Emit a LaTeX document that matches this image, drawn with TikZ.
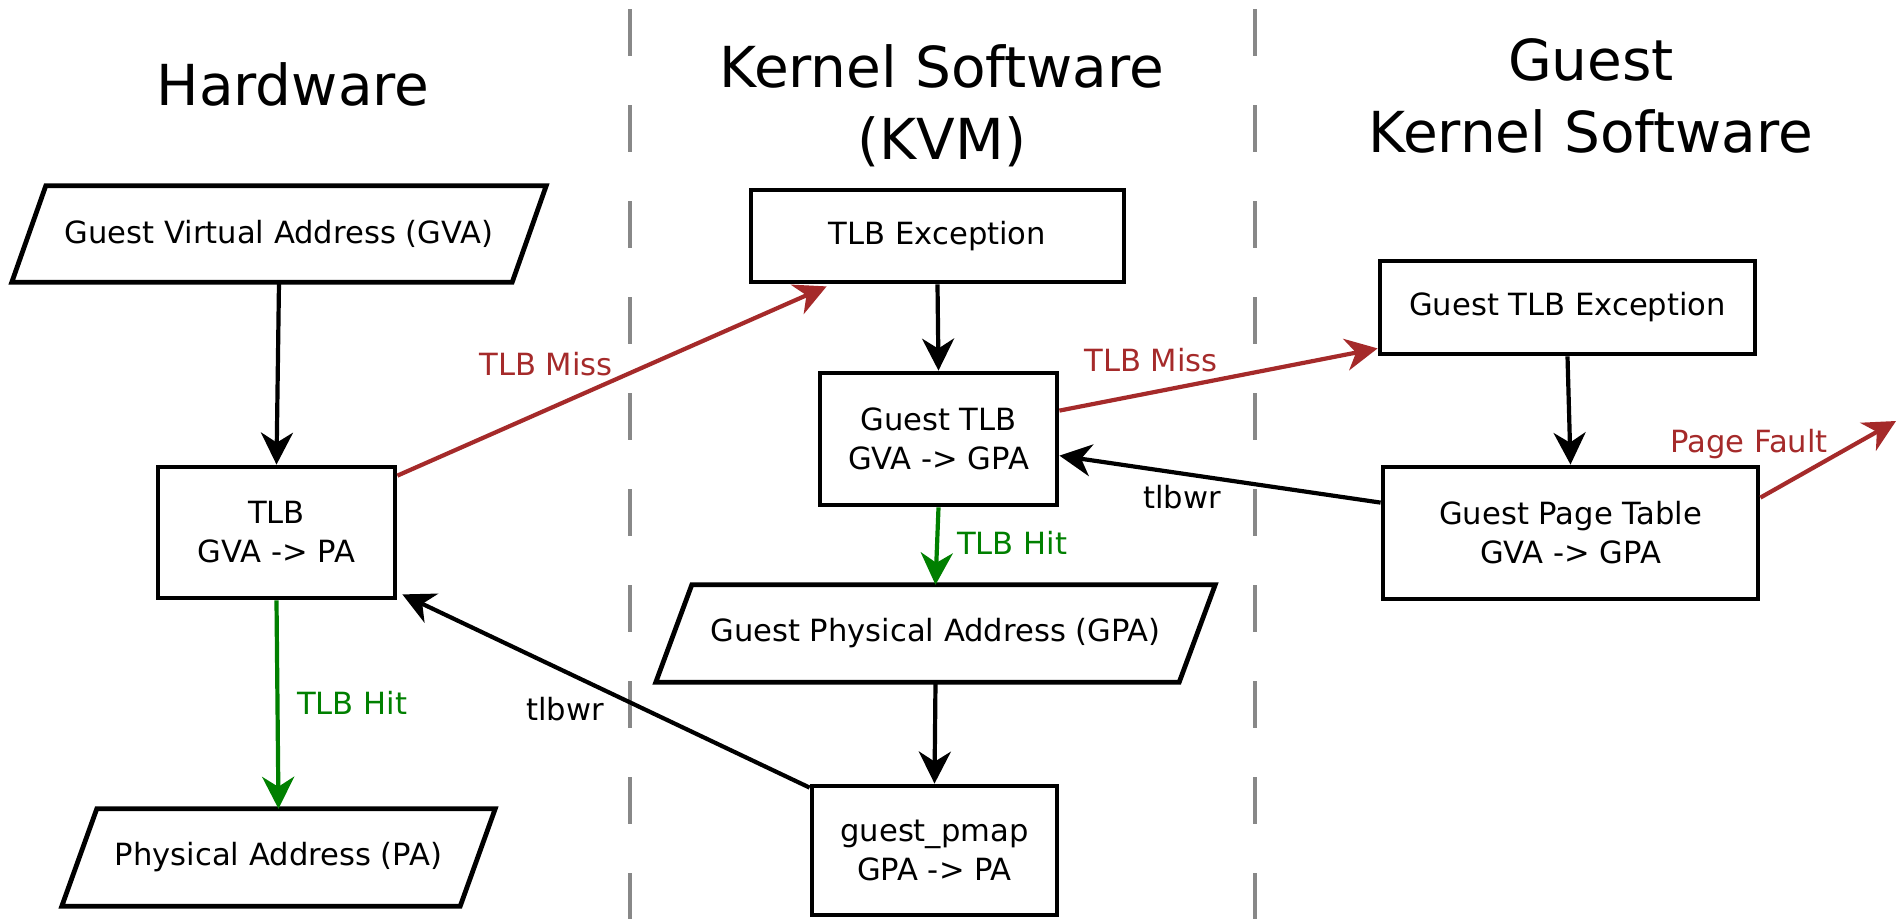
\documentclass[tikz,border=0pt]{standalone}
\usepackage{fontspec}
\setmainfont{DejaVu Sans}
\usetikzlibrary{arrows.meta}
\definecolor{missred}{RGB}{165,42,42}
\definecolor{hitgreen}{RGB}{0,128,0}
\definecolor{divgray}{RGB}{136,136,136}
\newcommand{\diagfont}{\fontsize{30.6}{39}\selectfont}
\newcommand{\headfont}{\fontsize{56.5}{72}\selectfont}
\tikzset{
  box/.style={draw, line width=4.8pt, rectangle, inner sep=0pt, align=center, font=\diagfont},
  iobox/.style={rectangle, inner sep=0pt, align=center, font=\diagfont},
  pgram/.style={draw, line width=4.8pt, line join=miter},
  flow/.style={line width=4.2pt, -{Stealth[length=32pt,width=32pt,inset=10pt]}},
  miss/.style={flow, missred},
  hit/.style={flow, hitgreen},
  lbl/.style={inner sep=0pt, font=\diagfont, anchor=base},
  head/.style={inner sep=0pt, align=center, font=\headfont},
  divider/.style={divgray, line width=4pt, dash pattern=on 47pt off 49pt}
}
\begin{document}
\begin{tikzpicture}[x=1pt, y=-1pt]
  \useasboundingbox (0,0) rectangle (1901,919);
  \fill[white] (0,0) rectangle (1901,919);

  % column dividers
  \coordinate (d1top) at (630,9);
  \coordinate (d1bot) at (630,919);
  \coordinate (d2top) at (1255,9);
  \coordinate (d2bot) at (1255,919);
  \draw[divider] (d1top) -- (d1bot);
  \draw[divider] (d2top) -- (d2bot);

  % column headings
  \node[head] (hhw) at (293,84) {Hardware};
  \node[head] (hkvm) at (942,106) {Kernel Software\\(KVM)};
  \node[head] (hguest) at (1591,96) {Guest\\Kernel Software};

  % hardware column
  \node[iobox, minimum width=500pt, minimum height=96pt] (gva) at (279,234) {Guest Virtual Address (GVA)};
  \draw[pgram] ([xshift=17pt]gva.north west) -- ([xshift=17pt]gva.north east)
    -- ([xshift=-17pt]gva.south east) -- ([xshift=-17pt]gva.south west) -- cycle;
  \node[box, minimum width=237pt, minimum height=131pt] (tlb) at (276.5,532.5) {TLB\\GVA -> PA};
  \node[iobox, minimum width=398pt, minimum height=97pt] (pa) at (278.5,857.5) {Physical Address (PA)};
  \draw[pgram] ([xshift=17.5pt]pa.north west) -- ([xshift=17.5pt]pa.north east)
    -- ([xshift=-17.5pt]pa.south east) -- ([xshift=-17.5pt]pa.south west) -- cycle;

  % KVM column
  \node[box, minimum width=373pt, minimum height=92pt] (tlbexc) at (937.5,236) {TLB Exception};
  \node[box, minimum width=237pt, minimum height=132pt] (gtlb) at (938.5,439) {Guest TLB\\GVA -> GPA};
  \node[iobox, minimum width=523pt, minimum height=97pt] (gpa) at (935.5,633.5) {Guest Physical Address (GPA)};
  \draw[pgram] ([xshift=18pt]gpa.north west) -- ([xshift=18pt]gpa.north east)
    -- ([xshift=-18pt]gpa.south east) -- ([xshift=-18pt]gpa.south west) -- cycle;
  \node[box, minimum width=245pt, minimum height=129pt] (pmap) at (934.5,850.5) {guest\_pmap\\GPA -> PA};

  % guest kernel column
  \node[box, minimum width=375pt, minimum height=93pt] (gtlbexc) at (1567.5,307.5) {Guest TLB Exception};
  \node[box, minimum width=375pt, minimum height=132pt] (gpt) at (1570.5,533) {Guest Page Table\\GVA -> GPA};
  \coordinate (pf) at (1896,421);

  % connectors
  \draw[flow] (gva.south) -- (tlb.north);
  \draw[miss] ([yshift=-11pt]tlb.north east) -- ([xshift=78pt,yshift=-2pt]tlbexc.south west);
  \node[lbl, missred] (miss1) at (546,375) {TLB Miss};
  \draw[hit] (tlb.south) -- (pa.north);
  \node[lbl, hitgreen, anchor=base west] (hit1) at (297,714) {TLB Hit};
  \draw[flow] ([yshift=-4pt]pmap.north west) -- ([xshift=5pt,yshift=6pt]tlb.south east);
  \node[lbl] (wr1) at (565,720) {tlbwr};

  \draw[flow] (tlbexc.south) -- (gtlb.north);
  \draw[miss] ([yshift=-40pt]gtlb.north east) -- ([yshift=8pt]gtlbexc.south west);
  \node[lbl, missred] (miss2) at (1151,371) {TLB Miss};
  \draw[hit] (gtlb.south) -- (gpa.north);
  \node[lbl, hitgreen, anchor=base west] (hit2) at (957,554) {TLB Hit};
  \draw[flow] (gpa.south) -- (pmap.north);

  \draw[flow] (gtlbexc.south) -- (gpt.north);
  \draw[flow] ([yshift=-38pt]gpt.north west) -- ([yshift=-85pt]gtlb.north east);
  \node[lbl] (wr2) at (1182,508) {tlbwr};
  \draw[miss] ([yshift=-33pt]gpt.north east) -- (pf);
  \node[lbl, missred] (pfl) at (1749,452) {Page Fault};
\end{tikzpicture}
\end{document}
